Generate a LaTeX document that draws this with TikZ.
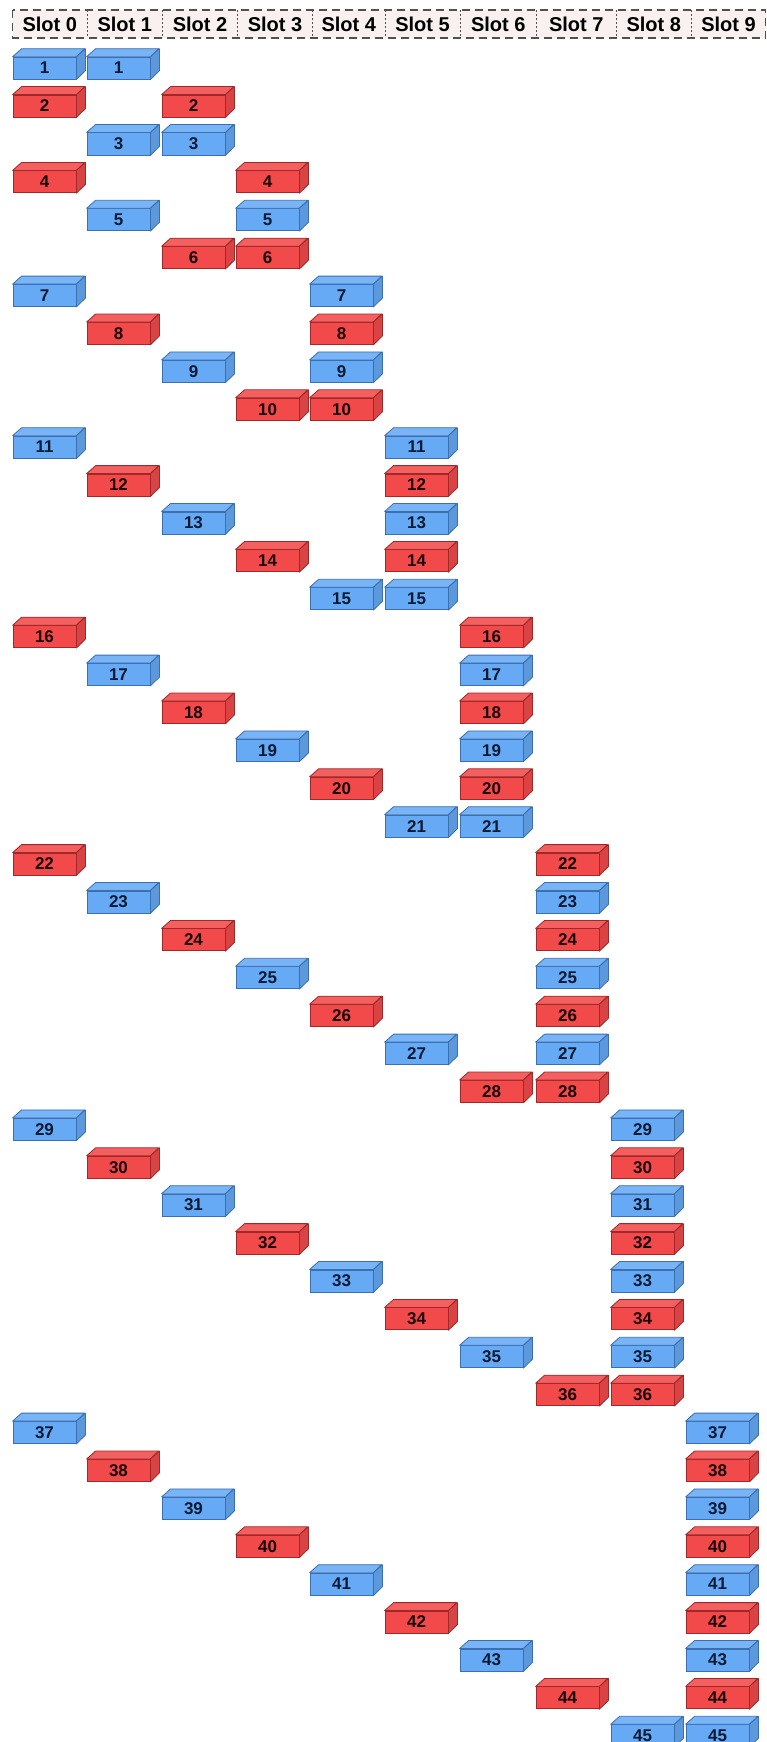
\documentclass[tikz,border=0pt]{standalone}
\usepackage{fontspec}
\setmainfont{Liberation Sans}
\definecolor{bfill}{HTML}{66AAF5}
\definecolor{bedge}{HTML}{3A6FB0}
\definecolor{btext}{HTML}{0B1A33}
\definecolor{rfill}{HTML}{F24A4A}
\definecolor{redge}{HTML}{A02828}
\definecolor{rtext}{HTML}{1A0505}
\definecolor{hfill}{HTML}{F8F1F0}
\definecolor{hline}{HTML}{505050}
\tikzset{
  cubefront/.style={rectangle, minimum width=63pt, minimum height=22pt, inner sep=0pt,
    line width=0.8pt, font=\fontsize{17}{17}\selectfont\bfseries},
  cubeface/.style={line width=0.8pt, line join=round},
  headbox/.style={draw=hline, fill=hfill, line width=1.8pt, dash pattern=on 8pt off 5pt},
  headsep/.style={draw=hline, line width=0.8pt, dash pattern=on 2pt off 2pt},
  headtext/.style={font=\fontsize{20}{20}\selectfont\bfseries, text=black}
}
\newcommand\drawcube[5]{%
  \node[cubefront, fill=#5fill, draw=#5edge, text=#5text] (#1) at (#2,#3) {#4};
  \filldraw[cubeface, fill=#5fill!88!white, draw=#5edge] (#1.north west) -- ++(9,-8) -- ++(63,0) -- (#1.north east) -- cycle;
  \filldraw[cubeface, fill=#5fill!90!black, draw=#5edge] (#1.north east) -- ++(9,-8) -- ++(0,22) -- (#1.south east) -- cycle;
}
\begin{document}
\begin{tikzpicture}[x=1pt,y=-1pt]
\useasboundingbox (0,0) rectangle (766,1742);
% header
\draw[headbox] (12.5,10) rectangle (765.5,38);
\foreach \xb in {87,162.5,237.5,312.5,385,460,536.5,616,691.5}{
  \draw[headsep] (\xb,10) -- (\xb,38);
}
\foreach \k/\xl/\xr in {0/12.5/87,1/87/162.5,2/162.5/237.5,3/237.5/312.5,4/312.5/385,5/385/460,6/460/536.5,7/536.5/616,8/616/691.5,9/691.5/765.5}{
  \node[headtext] (slot\k) at ({(\xl+\xr)/2},24) {Slot \k};
}
% cubes
\def\colx{{13,87,162,236,310,385,460,536,611,686}}
\foreach \j in {1,...,9}{
  \pgfmathtruncatemacro\jm{\j-1}
  \foreach \i in {0,...,\jm}{
    \pgfmathtruncatemacro\n{\j*(\j-1)/2+\i+1}
    \pgfmathsetmacro\yc{106+(\n-2)*37.9}
    \pgfmathsetmacro\xa{\colx[\i]+31.5}
    \pgfmathsetmacro\xb{\colx[\j]+31.5}
    \ifodd\n\def\cc{b}\else\def\cc{r}\fi
    \drawcube{c\n a}{\xa}{\yc}{\n}{\cc}
    \drawcube{c\n b}{\xb}{\yc}{\n}{\cc}
  }
}
\end{tikzpicture}
\end{document}
